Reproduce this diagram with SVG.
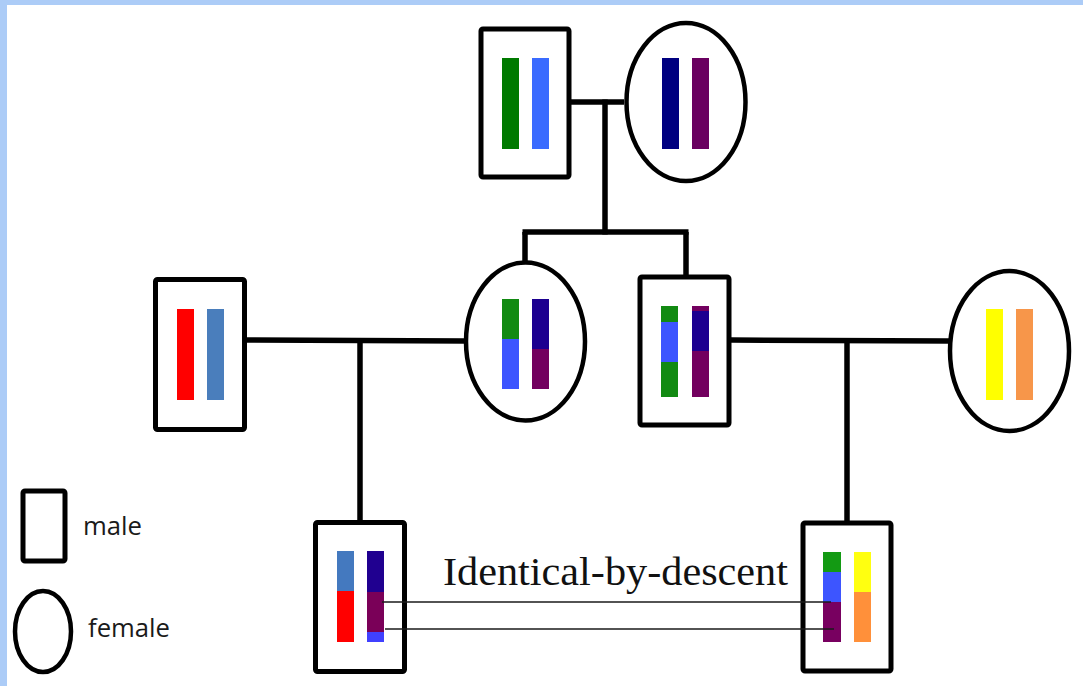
<svg xmlns="http://www.w3.org/2000/svg" width="1083" height="686" viewBox="0 0 1083 686">
  <style>
    .male { fill: #ffffff; stroke: #000000; stroke-width: 5; }
    .female { fill: #ffffff; stroke: #000000; stroke-width: 4.5; }
    .link { stroke: #000000; stroke-width: 5.5; fill: none; stroke-linecap: butt; }
    .ibd { stroke: #1a1a1a; stroke-width: 1.6; fill: none; }
    .legend { font-family: "Open Sans", "Liberation Sans", sans-serif; font-size: 25px; fill: #1a1a1a; }
    .title { font-family: "Liberation Serif", "DejaVu Serif", serif; font-size: 41px; fill: #111111; }
  </style>

  <!-- page background with light blue frame on the top and left -->
  <rect x="0" y="0" width="1083" height="686" fill="#acccf7"/>
  <rect x="7" y="5" width="1076" height="681" fill="#ffffff"/>

  <!-- grandfather -->
  <g id="grandfather">
    <rect class="male" x="481" y="29" width="88" height="148" rx="2"/>
    <rect x="502" y="58" width="17" height="91" fill="#007a00"/>
    <rect x="532" y="58" width="17" height="91" fill="#3a6bff"/>
  </g>

  <!-- grandmother -->
  <g id="grandmother">
    <ellipse class="female" cx="686" cy="102" rx="59.5" ry="79"/>
    <rect x="662" y="58" width="17" height="91" fill="#000080"/>
    <rect x="692" y="58" width="17" height="91" fill="#6a0060"/>
  </g>

  <!-- left father -->
  <g id="father-left">
    <rect class="male" x="155.5" y="279.5" width="89" height="150" rx="2"/>
    <rect x="177" y="309" width="17" height="91" fill="#ff0000"/>
    <rect x="207" y="309" width="17" height="91" fill="#4a7ebc"/>
  </g>

  <!-- daughter -->
  <g id="daughter">
    <ellipse class="female" cx="525.5" cy="341.5" rx="59.5" ry="79"/>
    <rect x="502" y="299" width="17" height="40" fill="#128a12"/>
    <rect x="502" y="339" width="17" height="50" fill="#3d55ff"/>
    <rect x="532" y="299" width="17" height="50" fill="#1c0090"/>
    <rect x="532" y="349" width="17" height="40" fill="#73005f"/>
  </g>

  <!-- son -->
  <g id="son">
    <rect class="male" x="640" y="277" width="89" height="148" rx="2"/>
    <rect x="661" y="306" width="17" height="16" fill="#128a12"/>
    <rect x="661" y="322" width="17" height="40" fill="#3d55ff"/>
    <rect x="661" y="362" width="17" height="35" fill="#128a12"/>
    <rect x="692" y="306" width="17" height="5" fill="#73005f"/>
    <rect x="692" y="311" width="17" height="40" fill="#1c0090"/>
    <rect x="692" y="351" width="17" height="46" fill="#73005f"/>
  </g>

  <!-- right mother -->
  <g id="mother-right">
    <ellipse class="female" cx="1009.5" cy="351" rx="59.5" ry="80"/>
    <rect x="986" y="309" width="17" height="91" fill="#ffff00"/>
    <rect x="1016" y="309" width="17" height="91" fill="#f7964a"/>
  </g>

  <!-- left grandchild -->
  <g id="grandchild-left">
    <rect class="male" x="315.5" y="522.5" width="89" height="149" rx="2"/>
    <rect x="337" y="551" width="17" height="40" fill="#4479bf"/>
    <rect x="337" y="591" width="17" height="51" fill="#ff0000"/>
    <rect x="367" y="551" width="17" height="41" fill="#200090"/>
    <rect x="367" y="592" width="17" height="40" fill="#7a0058"/>
    <rect x="367" y="632" width="17" height="10" fill="#4040ff"/>
  </g>

  <!-- right grandchild -->
  <g id="grandchild-right">
    <rect class="male" x="803" y="523" width="88" height="148" rx="2"/>
    <rect x="823" y="552" width="18" height="20" fill="#139a13"/>
    <rect x="823" y="572" width="18" height="30" fill="#3d55ff"/>
    <rect x="823" y="602" width="18" height="40" fill="#780060"/>
    <rect x="854" y="552" width="17" height="40" fill="#ffff10"/>
    <rect x="854" y="592" width="17" height="50" fill="#ff903a"/>
  </g>

  <!-- connectors, drawn over the nodes so the shared-segment lines reach into the bars -->
  <g id="connectors">
    <!-- grandparents -->
    <line class="link" x1="571" y1="102" x2="624" y2="102"/>
    <line class="link" x1="605" y1="99.5" x2="605" y2="234.5"/>
    <line class="link" x1="522.5" y1="232" x2="688.5" y2="232"/>
    <line class="link" x1="525" y1="232" x2="525" y2="262"/>
    <line class="link" x1="686" y1="232" x2="686" y2="275"/>
    <!-- left couple -->
    <line class="link" x1="247" y1="340" x2="465" y2="341"/>
    <line class="link" x1="360" y1="338" x2="360" y2="520"/>
    <!-- right couple -->
    <line class="link" x1="731" y1="340" x2="949" y2="341"/>
    <line class="link" x1="847" y1="338" x2="847" y2="521"/>
    <!-- shared segments -->
    <line class="ibd" x1="382" y1="602" x2="831" y2="602"/>
    <line class="ibd" x1="385" y1="629" x2="834" y2="629"/>
  </g>

  <!-- label for the shared segments -->
  <text class="title" x="443" y="585" textLength="345" lengthAdjust="spacingAndGlyphs">Identical-by-descent</text>

  <!-- key -->
  <g id="legend-male">
    <rect class="male" x="23" y="491" width="42" height="70" rx="2"/>
    <text class="legend" x="83" y="535" textLength="59" lengthAdjust="spacingAndGlyphs">male</text>
  </g>
  <g id="legend-female">
    <ellipse class="female" cx="43" cy="631.5" rx="28" ry="40.5"/>
    <text class="legend" x="88" y="637" textLength="82" lengthAdjust="spacingAndGlyphs">female</text>
  </g>
</svg>
